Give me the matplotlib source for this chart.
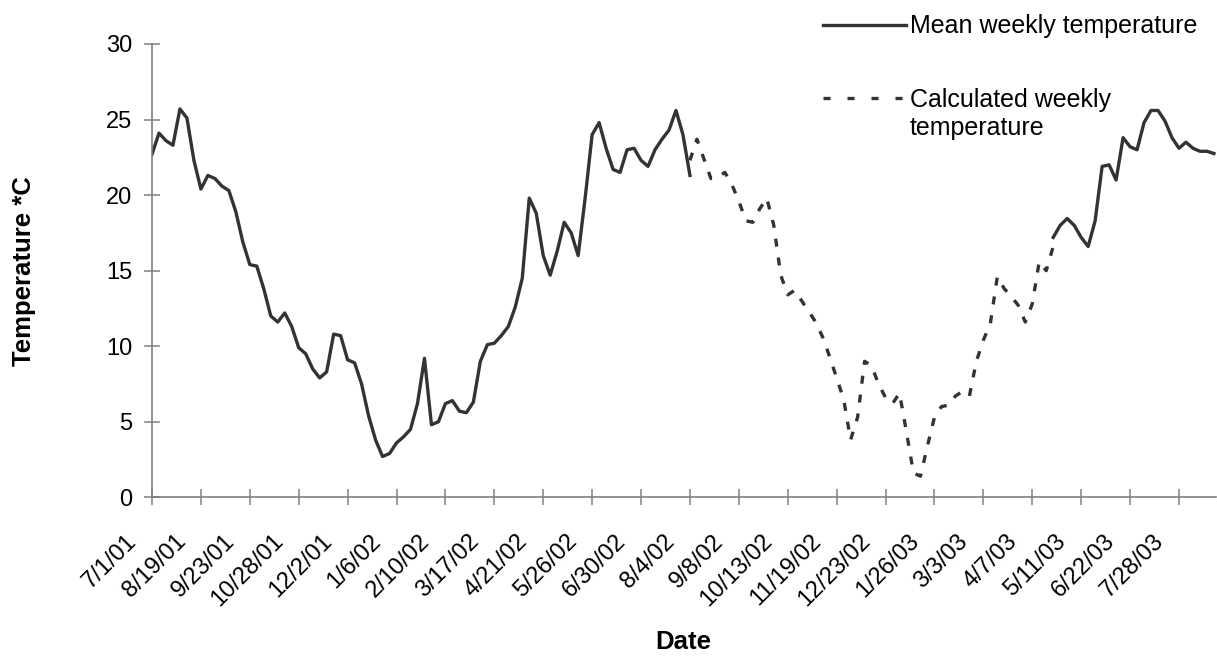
import numpy as np
import matplotlib
matplotlib.use("Agg")
import matplotlib.pyplot as plt
from matplotlib.lines import Line2D
from matplotlib.transforms import ScaledTranslation

plt.rcParams['font.family'] = ['Liberation Sans', 'DejaVu Sans']

# tick labels, one every 7 categories
date_labels = ['7/1/01', '8/19/01', '9/23/01', '10/28/01', '12/2/01', '1/6/02',
               '2/10/02', '3/17/02', '4/21/02', '5/26/02', '6/30/02', '8/4/02',
               '9/8/02', '10/13/02', '11/19/02', '12/23/02', '1/26/03', '3/3/03',
               '4/7/03', '5/11/03', '6/22/03', '7/28/03']

# measured mean weekly temperature, first stretch (categories 0-77)
mean_temp_a = [22.7, 24.1, 23.6, 23.3, 25.7, 25.1, 22.3, 20.4, 21.3, 21.1,
               20.6, 20.3, 18.9, 16.9, 15.4, 15.3, 13.8, 12.0, 11.6, 12.2,
               11.3, 9.9, 9.5, 8.5, 7.9, 8.3, 10.8, 10.7, 9.1, 8.9,
               7.5, 5.4, 3.8, 2.7, 2.9, 3.6, 4.0, 4.5, 6.2, 9.2,
               4.8, 5.0, 6.2, 6.4, 5.7, 5.6, 6.3, 9.0, 10.1, 10.2,
               10.7, 11.3, 12.6, 14.5, 19.8, 18.8, 16.0, 14.7, 16.3, 18.2,
               17.5, 16.0, 19.8, 24.0, 24.8, 23.1, 21.7, 21.5, 23.0, 23.1,
               22.3, 21.9, 23.0, 23.7, 24.3, 25.6, 24.0, 21.3]

# calculated weekly temperature (categories 77-129)
calc_temp = [22.3, 23.7, 22.4, 21.1, 21.2, 21.5, 20.7, 19.6, 18.3, 18.2,
             19.1, 19.8, 18.0, 14.7, 13.4, 13.7, 13.0, 12.3, 11.6, 10.6,
             9.3, 7.9, 6.5, 3.8, 5.3, 9.0, 8.7, 7.5, 6.6, 6.2,
             6.9, 4.3, 1.6, 1.4, 3.4, 5.3, 6.0, 6.1, 6.7, 7.0,
             6.7, 9.0, 10.4, 11.5, 14.6, 13.8, 13.3, 12.7, 11.6, 12.8,
             15.6, 15.0, 16.6]

# measured mean weekly temperature, second stretch (categories 129-152)
mean_temp_b = [17.2, 18.0, 18.45, 18.0, 17.2, 16.6, 18.3, 21.9, 22.0, 21.0,
               23.8, 23.2, 23.0, 24.8, 25.6, 25.6, 24.9, 23.8, 23.1, 23.5,
               23.1, 22.9, 22.9, 22.75]

x_a = np.arange(len(mean_temp_a))
x_c = np.arange(len(calc_temp)) + len(mean_temp_a) - 1
x_b = np.arange(len(mean_temp_b)) + x_c[-1]

line_col = '#333333'
axis_col = '#808080'

fig = plt.figure(figsize=(12.17, 6.61), dpi=100)
ax = fig.add_axes([152 / 1217, 163.7 / 661, 1064 / 1217, 453.3 / 661])

ax.plot(x_a, mean_temp_a, color=line_col, lw=2.4, solid_joinstyle='round')
ax.plot(x_b, mean_temp_b, color=line_col, lw=2.4, solid_joinstyle='round')
ax.plot(x_c, calc_temp, color=line_col, lw=2.4, dashes=(2.4, 3.3))

ax.set_xlim(0, 152.3)
ax.set_ylim(0, 30)

ax.set_xticks(np.arange(len(date_labels)) * 7)
ax.set_xticklabels(date_labels, rotation=45, ha='right', fontsize=17)
ax.set_yticks(range(0, 31, 5))
ax.tick_params(axis='y', labelsize=17)

for s in ['top', 'right']:
    ax.spines[s].set_visible(False)
for s in ['left', 'bottom']:
    ax.spines[s].set_color(axis_col)
    ax.spines[s].set_linewidth(1.2)

ax.tick_params(axis='x', direction='inout', length=11, width=1.1,
               color=axis_col, pad=16)
ax.tick_params(axis='y', direction='inout', length=11, width=1.1,
               color=axis_col, pad=8.5)

# Excel puts the rotated labels a bit to the left of their tick
shift = ScaledTranslation(-11 / 100, -3 / 100, fig.dpi_scale_trans)
for lab in ax.get_xticklabels():
    lab.set_transform(lab.get_transform() + shift)

ax.set_xlabel('Date', fontsize=18.5, fontweight='bold', va='center')
ax.xaxis.set_label_coords((683 - 152) / 1064, (497.3 - 641.7) / 453.3)
ax.set_ylabel('Temperature *C', fontsize=18.5, fontweight='bold', va='center')
ax.yaxis.set_label_coords((24 - 152) / 1064, 0.5)

# legend drawn in the top right corner, Excel style
W, H = 1217, 661
fig.add_artist(Line2D([822.7 / W, 906 / W], [1 - 25 / H, 1 - 25 / H],
                      color=line_col, lw=2.4))
fig.add_artist(Line2D([822.7 / W, 906 / W], [1 - 98 / H, 1 - 98 / H],
                      color=line_col, lw=2.4, dashes=(2.1, 5.1)))
fig.text(910 / W, 1 - 26 / H, 'Mean weekly temperature', fontsize=18,
         ha='left', va='center')
fig.text(910 / W, 1 - 114 / H, 'Calculated weekly\ntemperature', fontsize=18,
         ha='left', va='center', linespacing=1.2)

fig.savefig('out.png', dpi=100)
